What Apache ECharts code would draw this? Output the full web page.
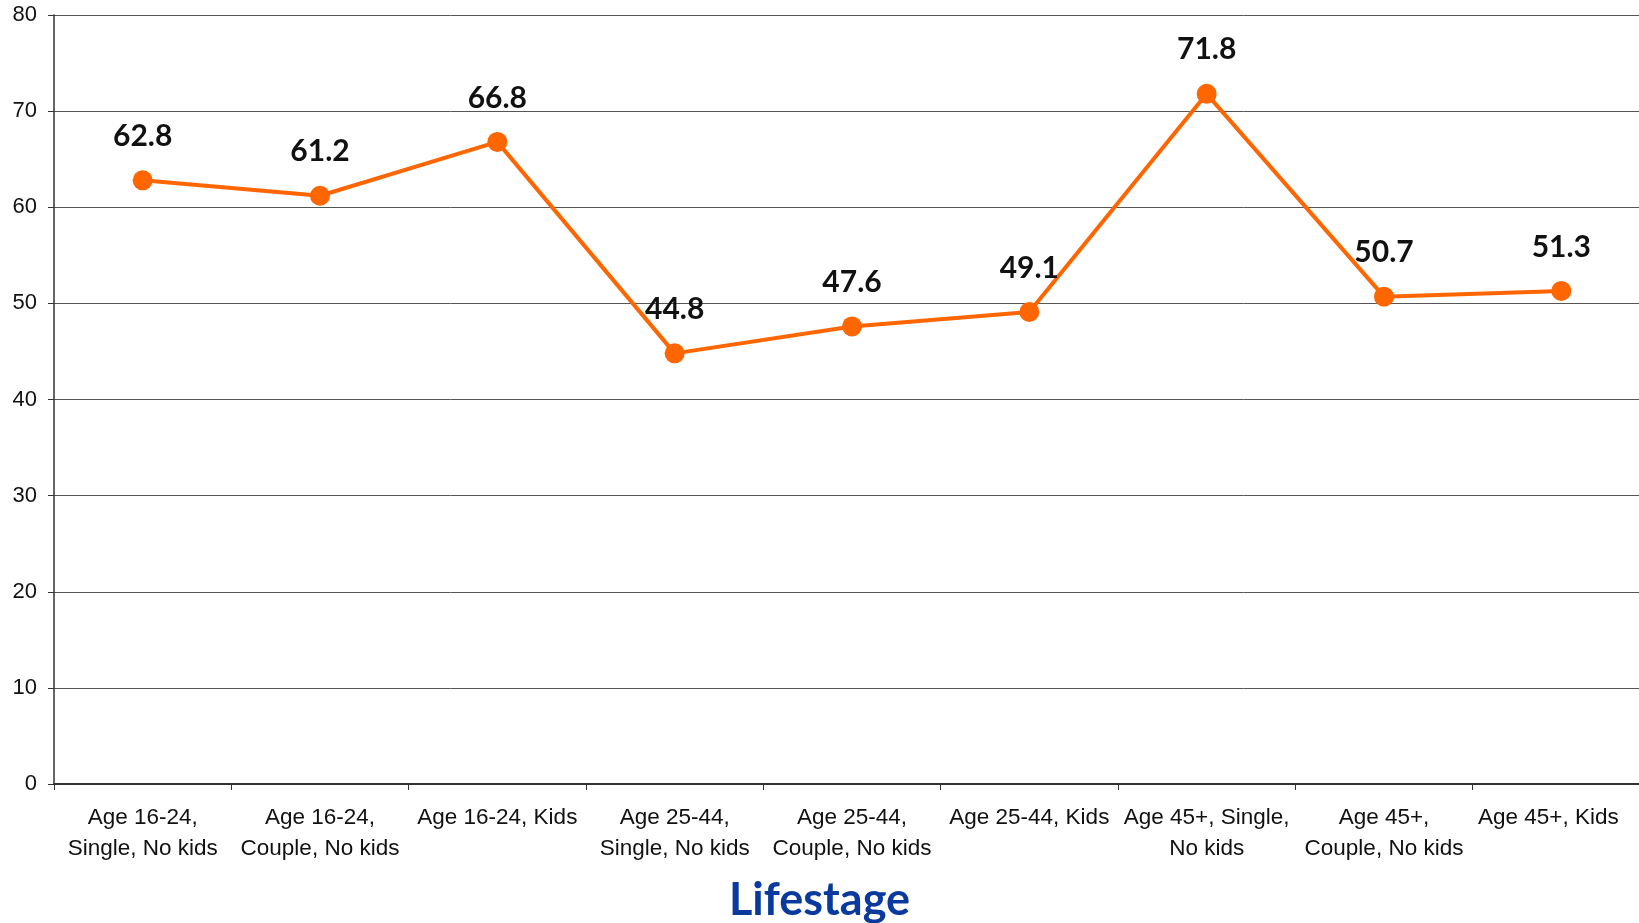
<!DOCTYPE html>
<html><head><meta charset="utf-8">
<script src="https://cdn.jsdelivr.net/npm/echarts@6/dist/echarts.min.js"></script>
<style>html,body{margin:0;padding:0;background:#fff}#c{width:1639px;height:923px}</style>
</head><body><div id="c"></div>
<script>
const categories = ["Age 16-24,\nSingle, No kids","Age 16-24,\nCouple, No kids","Age 16-24, Kids","Age 25-44,\nSingle, No kids","Age 25-44,\nCouple, No kids","Age 25-44, Kids","Age 45+, Single,\nNo kids","Age 45+,\nCouple, No kids","Age 45+, Kids"];
const values = [62.8, 61.2, 66.8, 44.8, 47.6, 49.1, 71.8, 50.7, 51.3];
const axisTitle = "Lifestage";
const catData = categories.map((c, i) => i === categories.length - 1
  ? {value: c, textStyle: {padding: [0, 26, 0, 0]}} : c);
const chart = echarts.init(document.getElementById('c'));
chart.setOption({
  animation:false,
  backgroundColor:'#fff',
  title:{text:axisTitle,left:'center',top:873,textStyle:{fontFamily:'Lato',fontWeight:'bold',fontSize:45,color:'#0A3A9E'}},
  grid:{left:54,width:1596,top:15,bottom:139,containLabel:false,outerBoundsMode:'none'},
  xAxis:{type:'category',data:catData,
    axisLine:{lineStyle:{color:'#333',width:2}},
    axisTick:{show:true,length:6,lineStyle:{color:'#333',width:1}},
    axisLabel:{interval:0,margin:18,fontFamily:'Liberation Sans',fontSize:22.5,lineHeight:31,color:'#111'}},
  yAxis:{type:'value',min:0,max:80,interval:10,
    axisLine:{show:true,lineStyle:{color:'#333',width:1.5}},
    axisTick:{show:true,length:6,lineStyle:{color:'#333'}},
    axisLabel:{margin:17,fontFamily:'Liberation Sans',fontSize:22,color:'#111'},
    splitLine:{lineStyle:{color:'#555',width:1}}},
  series:[{type:'line',data:values,symbol:'circle',symbolSize:20,
    lineStyle:{color:'#FF6600',width:4},itemStyle:{color:'#FF6600'},
    label:{show:true,position:'top',distance:19,fontFamily:'Lato',fontWeight:'bold',fontSize:30,color:'#111'}}]
});
</script></body></html>
